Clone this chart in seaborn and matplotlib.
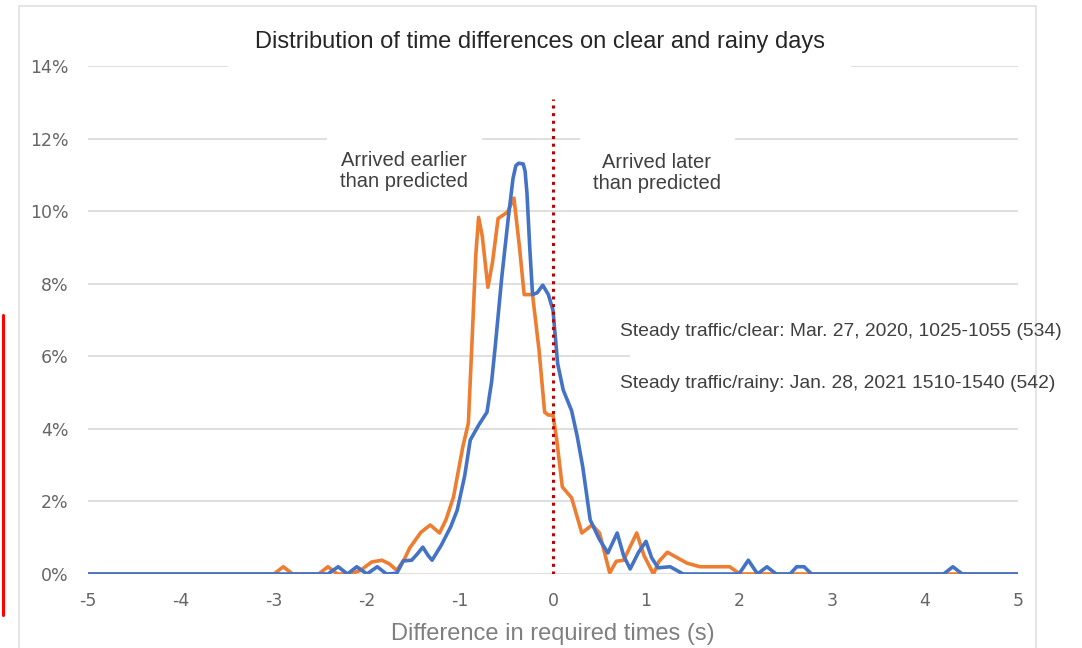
import numpy as np
import pandas as pd
import matplotlib
matplotlib.use("Agg")
import matplotlib.pyplot as plt
from matplotlib.patches import Rectangle
from matplotlib.lines import Line2D
import seaborn as sns

# ---------------- data ----------------
clear_x = [-5, -2.42, -2.31, -2.21, -2.11, -2.0, -1.89, -1.79, -1.68, -1.61, -1.52, -1.46, -1.40,
           -1.34, -1.30, -1.2, -1.1, -1.03, -0.95, -0.89, -0.80, -0.71, -0.66, -0.62, -0.55, -0.48,
           -0.43, -0.40, -0.37, -0.32, -0.30, -0.28, -0.25, -0.22, -0.17, -0.11, -0.05, 0.0, 0.05,
           0.11, 0.2, 0.26, 0.32, 0.4, 0.5, 0.59, 0.69, 0.76, 0.83, 0.92, 1.0, 1.06, 1.13, 1.26,
           1.4, 2.0, 2.1, 2.2, 2.3, 2.4, 2.55, 2.62, 2.7, 2.78, 4.2, 4.3, 4.4, 5]
clear_y = [0, 0, 0.2, 0, 0.2, 0, 0.2, 0, 0.02, 0.36, 0.38, 0.55, 0.74,
           0.5, 0.38, 0.8, 1.3, 1.76, 2.7, 3.69, 4.1, 4.46, 5.3, 6.3, 8.2, 9.83,
           10.9, 11.25, 11.32, 11.3, 11.1, 10.5, 9.0, 7.7, 7.75, 7.96, 7.7, 7.27, 5.8,
           5.07, 4.5, 3.8, 2.95, 1.49, 0.95, 0.58, 1.13, 0.5, 0.14, 0.6, 0.9, 0.45, 0.17, 0.2,
           0, 0, 0.38, 0, 0.2, 0, 0, 0.2, 0.2, 0, 0, 0.2, 0, 0]

rainy_x = [-5, -3.0, -2.9, -2.8, -2.52, -2.42, -2.32, -2.18, -2.07, -1.95, -1.84, -1.76, -1.68,
           -1.6, -1.54, -1.42, -1.32, -1.22, -1.15, -1.07, -0.97, -0.91, -0.87, -0.83, -0.80,
           -0.76, -0.70, -0.65, -0.59, -0.49, -0.42, -0.36, -0.31, -0.22, -0.15, -0.09, -0.05,
           0.0, 0.04, 0.1, 0.2, 0.31, 0.42, 0.5, 0.61, 0.68, 0.76, 0.9, 0.98, 1.08, 1.14, 1.23,
           1.44, 1.58, 1.9, 2.01, 5]
rainy_y = [0, 0, 0.2, 0, 0, 0.2, 0, 0, 0.1, 0.33, 0.38, 0.28, 0.1,
           0.4, 0.72, 1.15, 1.35, 1.13, 1.5, 2.12, 3.5, 4.16, 6.45, 8.8, 9.83,
           9.3, 7.9, 8.6, 9.8, 9.97, 10.36, 9.0, 7.7, 7.7, 6.17, 4.46, 4.38,
           4.38, 3.7, 2.4, 2.1, 1.13, 1.35, 1.13, 0.03, 0.35, 0.38, 1.13, 0.5, 0, 0.35, 0.6,
           0.3, 0.2, 0.2, 0, 0]

x_ticks = [-5, -4, -3, -2, -1, 0, 1, 2, 3, 4, 5]
y_ticks = [0, 2, 4, 6, 8, 10, 12, 14]

title = "Distribution of time differences on clear and rainy days"
x_label = "Difference in required times (s)"
note_early = "Arrived earlier\nthan predicted"
note_late = "Arrived later\nthan predicted"
legend_clear = "Steady traffic/clear: Mar. 27, 2020, 1025-1055 (534)"
legend_rainy = "Steady traffic/rainy: Jan. 28, 2021 1510-1540 (542)"

df = pd.concat([
    pd.DataFrame({"x": rainy_x, "y": rainy_y, "series": "rainy"}),
    pd.DataFrame({"x": clear_x, "y": clear_y, "series": "clear"}),
], ignore_index=True)

# ---------------- figure ----------------
sns.set_theme(style="white")
plt.rcParams["font.family"] = ["Liberation Sans", "DejaVu Sans"]

W, H = 1082, 648
fig = plt.figure(figsize=(W / 100, H / 100), dpi=100)
fig.patch.set_facecolor("white")

# axes pixel box: x 88..1018, y 66..574
ax = fig.add_axes([88 / W, 1 - 574 / H, (1018 - 88) / W, (574 - 66) / H])

def px_rect(x0, y0, x1, y1, **kw):
    """rectangle in figure pixel coords (origin top-left)"""
    return Rectangle((x0 / W, 1 - y1 / H), (x1 - x0) / W, (y1 - y0) / H,
                     transform=fig.transFigure, **kw)

sns.lineplot(data=df, x="x", y="y", hue="series", hue_order=["rainy", "clear"],
             palette={"rainy": "#ED7D31", "clear": "#4472C4"}, sort=False,
             estimator=None, linewidth=2.6, legend=False, ax=ax)
for ln in ax.get_lines():
    ln.set_solid_joinstyle("round")
    ln.set_solid_capstyle("round")
    ln.set_zorder(3)

ax.set_xlim(-5, 5)
ax.set_ylim(0, 14)
ax.set_xticks(x_ticks)
ax.set_xticklabels([str(t) for t in x_ticks])
ax.set_yticks(y_ticks)
ax.set_yticklabels([f"{t}%" for t in y_ticks])
ax.tick_params(axis="both", length=0, colors="#666666", labelsize=12.5)
for lab in ax.get_xticklabels() + ax.get_yticklabels():
    lab.set_family("DejaVu Sans")
ax.tick_params(axis="x", pad=13)
ax.tick_params(axis="y", pad=14)
ax.yaxis.grid(True, color="#d9d9d9", linewidth=1.2)
ax.xaxis.grid(False)
ax.set_axisbelow(True)
for s in ax.spines.values():
    s.set_visible(False)
ax.set_xlabel(x_label, fontsize=17, color="#7f7f7f", labelpad=9)
ax.set_ylabel("")

# dotted red reference line at 0
ax.plot([0, 0], [0, 13.1], linestyle=(0, (1, 1.5)), color="#C00000", linewidth=2.2, zorder=4)

# white text boxes covering gridlines
for (x0, y0, x1, y1) in [(228, 18, 851, 69), (327, 132, 482, 200), (580, 132, 735, 205),
                         (630, 345, 1020, 366)]:
    ax.add_patch(px_rect(x0, y0, x1, y1, facecolor="white", edgecolor="none",
                         zorder=1, clip_on=False))

def fig_text(xp, yp, s, **kw):
    fig.text(xp / W, 1 - yp / H, s, **kw)

fig_text(540, 42, title, ha="center", va="center", fontsize=17, color="#262626")
fig_text(404, 171, note_early, ha="center", va="center", fontsize=14.5, color="#404040",
         linespacing=1.1)
fig_text(657, 173, note_late, ha="center", va="center", fontsize=14.5, color="#404040",
         linespacing=1.1)
fig_text(620, 331, legend_clear, ha="left", va="center", fontsize=13.85, color="#404040")
fig_text(620, 383, legend_rainy, ha="left", va="center", fontsize=13.85, color="#404040")

# chart frame and red mark at left
fig.add_artist(Line2D([19 / W, 19 / W, 1036 / W, 1036 / W],
                      [0, 1 - 6 / H, 1 - 6 / H, 0], transform=fig.transFigure,
                      color="#e0e0e0", linewidth=1.2))
fig.add_artist(Line2D([2.5 / W, 2.5 / W], [1 - 315 / H, 1 - 615 / H], transform=fig.transFigure,
                      color="#ff0000", linewidth=2.2))

fig.savefig("out.png", dpi=100, facecolor="white")
